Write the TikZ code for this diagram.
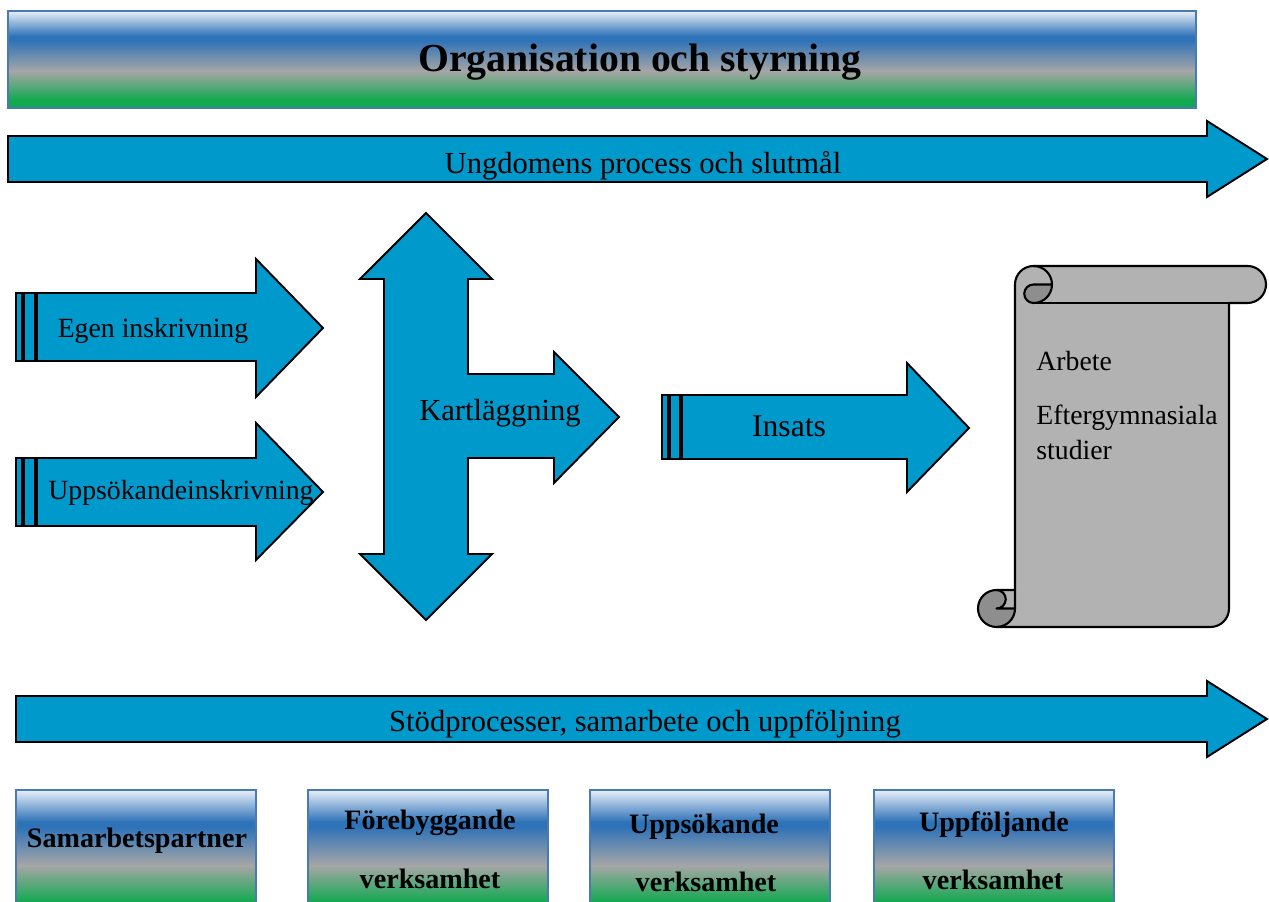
\documentclass[tikz,border=0pt]{standalone}
\usepackage{fontspec}
\setmainfont{Liberation Serif}
\definecolor{arrowblue}{HTML}{0099CC}
\definecolor{scrollgray}{HTML}{B2B2B2}
\definecolor{scrolldark}{HTML}{8E8E8E}
\definecolor{bborder}{HTML}{4A7AB4}
\definecolor{bwhite}{HTML}{E8EFF8}
\definecolor{bblue}{HTML}{2E72B8}
\definecolor{bgray}{HTML}{A6A6A6}
\definecolor{bgreen}{HTML}{10A94F}
\pgfdeclareverticalshading{bannershade}{100bp}{color(0bp)=(bgreen); color(29bp)=(bgreen); color(44bp)=(bgray); color(60bp)=(bblue); color(62bp)=(bblue); color(75bp)=(bwhite); color(100bp)=(bwhite)}
\begin{document}
\begin{tikzpicture}[x=0.02cm,y=0.02cm,
  arrowshape/.style={fill=arrowblue, draw=black, line width=1.1pt, line join=miter},
  stripe/.style={fill=arrowblue, draw=black, line width=0.75pt},
  gradbox/.style={shading=bannershade, draw=bborder, line width=1.2pt},
  lbl/.style={inner sep=0pt, text=black},
  midtext/.style={lbl, font=\fontsize{17.4}{21}\selectfont},
  smalltext/.style={lbl, font=\fontsize{15.8}{19}\selectfont},
  boxtext/.style={lbl, font=\bfseries\fontsize{16}{19}\selectfont},
  scrollline/.style={draw=black, line width=1.2pt, line join=round}
]
\useasboundingbox (0,0) rectangle (1269,902);
\clip (0,0) rectangle (1269,902);

% banner
\shadedraw[gradbox] (8,794) rectangle (1196,891);
\node[lbl, font=\bfseries\fontsize{22.6}{27}\selectfont] (title) at (640,840) {Organisation och styrning};

% process arrow
\draw[arrowshape] (8,766) -- (1207,766) -- (1207,781) -- (1267,743) -- (1207,705) -- (1207,720) -- (8,720) -- cycle;
\node[midtext] (process) at (643,736) {Ungdomens process och slutmål};

% Egen inskrivning
\draw[stripe] (16,541) rectangle (22,609);
\draw[stripe] (24,541) rectangle (35,609);
\draw[arrowshape] (37,609) -- (256,609) -- (256,643) -- (323,574) -- (256,505) -- (256,541) -- (37,541) -- cycle;
\node[smalltext] (egen) at (153,571) {Egen inskrivning};

% Uppsokandeinskrivning
\draw[stripe] (16,376) rectangle (22,444);
\draw[stripe] (24,376) rectangle (35,444);
\draw[arrowshape] (37,444) -- (256,444) -- (256,479) -- (323,410) -- (256,342) -- (256,376) -- (37,376) -- cycle;
\node[smalltext] (upps) at (181,409) {Uppsökandeinskrivning};

% Kartlaggning
\draw[arrowshape] (426,689) -- (492,623) -- (468,623) -- (468,528) -- (554,528) -- (554,550) -- (619,485) -- (554,419) -- (554,444) -- (468,444) -- (468,348) -- (492,348) -- (426,282) -- (360,348) -- (384,348) -- (384,623) -- (360,623) -- cycle;
\node[midtext] (kart) at (500,489) {Kartläggning};

% Insats
\draw[stripe] (662,443) rectangle (668,507);
\draw[stripe] (670,443) rectangle (680,507);
\draw[arrowshape] (682,507) -- (907,507) -- (907,539) -- (969,474) -- (907,410) -- (907,443) -- (682,443) -- cycle;
\node[lbl, font=\fontsize{18}{21}\selectfont] (insats) at (789,476) {Insats};

% scroll fill
\fill[scrollgray] (996.5,275) arc[start angle=-90, end angle=0, radius=18.5] -- (996.5,293.5)
  arc[start angle=-90, end angle=90, radius=9.25] -- (1015,312) -- (1015,617.5)
  arc[start angle=180, end angle=90, radius=18.5] -- (1247.5,636)
  arc[start angle=90, end angle=-90, radius=18.5] -- (1229,599) -- (1229,293.5)
  arc[start angle=0, end angle=-90, radius=18.5] -- cycle;
% dark curls
\fill[scrolldark] (1052,617.5) arc[start angle=0, end angle=-90, radius=18.5]
  arc[start angle=-90, end angle=-270, radius=9.25] -- cycle;
\fill[scrolldark] (996.5,312) arc[start angle=90, end angle=270, radius=18.5]
  arc[start angle=270, end angle=360, radius=18.5] -- (996.5,293.5)
  arc[start angle=-90, end angle=90, radius=9.25] -- cycle;
% outlines
\draw[scrollline] (1015,312) -- (1015,617.5) arc[start angle=180, end angle=90, radius=18.5]
  -- (1247.5,636) arc[start angle=90, end angle=-90, radius=18.5] -- (1229,599) -- (1229,293.5)
  arc[start angle=0, end angle=-90, radius=18.5] -- (996.5,275)
  arc[start angle=-90, end angle=-270, radius=18.5] -- cycle;
\draw[scrollline] (1033.5,636) arc[start angle=90, end angle=-90, radius=18.5]
  arc[start angle=-90, end angle=-270, radius=9.25] -- (1052,617.5);
\draw[scrollline] (1229,599) -- (1033.5,599);
\draw[scrollline] (996.5,312) arc[start angle=90, end angle=-90, radius=9.25] -- (1015,293.5);
\draw[scrollline] (996.5,275) arc[start angle=-90, end angle=0, radius=18.5] -- (1015,312);
\node[smalltext, anchor=west] (arbete) at (1036,541) {Arbete};
\node[smalltext, anchor=west] (efter) at (1036,484) {Eftergymnasiala};
\node[smalltext, anchor=west] (studier) at (1036,452) {studier};

% support arrow
\draw[arrowshape] (16,206) -- (1207,206) -- (1207,221) -- (1267,183) -- (1207,145) -- (1207,160) -- (16,160) -- cycle;
\node[midtext] (stod) at (645,178) {Stödprocesser, samarbete och uppföljning};

% bottom boxes
\shadedraw[gradbox] (16,-10) rectangle (256,112);
\shadedraw[gradbox] (308,-10) rectangle (548,112);
\shadedraw[gradbox] (590,-10) rectangle (830,112);
\shadedraw[gradbox] (874,-10) rectangle (1114,112);
\node[boxtext] (samarb) at (137,61) {Samarbetspartner};
\node[boxtext] (foreb) at (430,79) {Förebyggande};
\node[boxtext] (forebv) at (430,23) {verksamhet};
\node[boxtext] (uppsok) at (704,75) {Uppsökande};
\node[boxtext] (uppsokv) at (706,20) {verksamhet};
\node[boxtext] (uppf) at (994,77) {Uppföljande};
\node[boxtext] (uppfv) at (993,22) {verksamhet};
\end{tikzpicture}
\end{document}
